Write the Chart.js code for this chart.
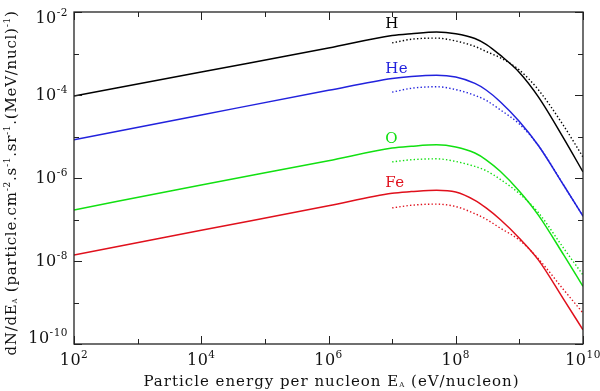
<!DOCTYPE html>
<html>
<head>
  <script src="https://cdn.jsdelivr.net/npm/chart.js@4"></script>
  <style>
    body { margin: 0; background: #fff; }
  </style>
</head>
<body>
  <canvas id="myChart" width="600" height="391"></canvas>
  <script>
    // energies per nucleon (eV/nucleon)
    const energies = [1e2, 1e4, 1e6, 1e7, 2e7, 5e7, 1e8, 2e8, 3e8, 5e8, 1e9, 2e9, 5e9, 1e10]
    const energiesDotted = [1e7, 2e7, 5e7, 1e8, 2e8, 3e8, 5e8, 1e9, 2e9, 5e9, 1e10]

    const hSolid  = [9.5e-5, 3.6e-4, 1.35e-3, 2.7e-3, 3.0e-3, 3.3e-3, 3.0e-3, 2.3e-3, 1.66e-3, 9.1e-4, 3.5e-4, 8.9e-5, 8.9e-6, 1.4e-6]
    const hDotted = [1.8e-3, 2.2e-3, 2.35e-3, 2.0e-3, 1.48e-3, 1.12e-3, 7.9e-4, 4.0e-4, 1.32e-4, 1.78e-5, 3.2e-6]

    const heSolid  = [8.3e-6, 3.3e-5, 1.3e-4, 2.5e-4, 2.8e-4, 3.0e-4, 2.7e-4, 1.9e-4, 1.32e-4, 6.9e-5, 2.3e-5, 6.0e-6, 6.6e-7, 1.2e-7]
    const heDotted = [1.17e-4, 1.45e-4, 1.58e-4, 1.35e-4, 9.8e-5, 7.4e-5, 4.4e-5, 2.0e-5, 6.0e-6, 6.6e-7, 1.2e-7]

    const oSolid  = [1.7e-7, 6.8e-7, 2.6e-6, 5.25e-6, 5.8e-6, 6.3e-6, 5.6e-6, 4.0e-6, 2.75e-6, 1.45e-6, 4.8e-7, 1.26e-7, 1.38e-8, 2.45e-9]
    const oDotted = [2.45e-6, 2.75e-6, 2.9e-6, 2.5e-6, 1.9e-6, 1.5e-6, 9.3e-7, 4.2e-7, 1.45e-7, 2.0e-8, 4.6e-9]

    const feSolid  = [1.4e-8, 5.5e-8, 2.15e-7, 4.3e-7, 4.7e-7, 5.1e-7, 4.6e-7, 2.9e-7, 1.9e-7, 1.0e-7, 3.55e-8, 1.05e-8, 1.17e-9, 2.2e-10]
    const feDotted = [1.9e-7, 2.2e-7, 2.35e-7, 2.05e-7, 1.38e-7, 1.02e-7, 6.2e-8, 3.2e-8, 1.12e-8, 2.0e-9, 5.6e-10]

    const species = ['H', 'He', 'O', 'Fe']
    const colors = ['#000000', '#2222dd', '#11e011', '#e0101c']
    // where the species names sit, in data units
    const nameSpots = [[7.8e6, 4.1e-3], [7.8e6, 3.4e-4], [7.8e6, 6.9e-6], [7.8e6, 6.0e-7]]

    const xExps = [2, 3, 4, 5, 6, 7, 8, 9, 10]
    const yExps = [-2, -3, -4, -5, -6, -7, -8, -9, -10]

    const solids = [hSolid, heSolid, oSolid, feSolid]
    const dotteds = [hDotted, heDotted, oDotted, feDotted]

    const FONT = '"DejaVu Serif", serif'

    function pts(xs, ys) {
      return xs.map((x, i) => ({ x: x, y: ys[i] }))
    }

    let datasets = []
    species.forEach((s, i) => {
      datasets.push({
        label: s,
        data: pts(energies, solids[i]),
        borderColor: colors[i],
        borderWidth: 1.5,
        pointRadius: 0,
        cubicInterpolationMode: 'monotone'
      })
      datasets.push({
        label: s + ' dotted',
        data: pts(energiesDotted, dotteds[i]),
        borderColor: colors[i],
        borderWidth: 1.4,
        borderDash: [1.4, 2.2],
        pointRadius: 0,
        cubicInterpolationMode: 'monotone'
      })
    })

    // text made of runs {t, size, dy}
    function runsWidth(ctx, runs, sp) {
      let w = 0
      ctx.letterSpacing = (sp || 0) + 'px'
      runs.forEach(r => {
        ctx.font = r.size + 'px ' + FONT
        w += ctx.measureText(r.t).width
      })
      return w
    }
    function drawRuns(ctx, runs, x, y, sp) {
      ctx.letterSpacing = (sp || 0) + 'px'
      runs.forEach(r => {
        ctx.font = r.size + 'px ' + FONT
        ctx.fillText(r.t, x, y + (r.dy || 0))
        x += ctx.measureText(r.t).width
      })
      ctx.letterSpacing = '0px'
    }
    function pow10(e) {
      return [{ t: '10', size: 16 }, { t: String(e), size: 10.5, dy: -7 }]
    }

    const frame = {
      id: 'frame',
      afterDraw(chart) {
        const ctx = chart.ctx
        const a = chart.chartArea
        const xs = chart.scales.x
        const ys = chart.scales.y
        ctx.save()
        ctx.strokeStyle = '#222'
        ctx.lineWidth = 1.3
        ctx.strokeRect(a.left, a.top, a.right - a.left, a.bottom - a.top)

        ctx.lineWidth = 1
        ctx.beginPath()
        xExps.forEach(k => {
          const px = Math.round(xs.getPixelForValue(Math.pow(10, k))) + 0.5
          const len = k % 2 === 0 ? 8 : 5
          ctx.moveTo(px, a.bottom); ctx.lineTo(px, a.bottom - len)
          ctx.moveTo(px, a.top); ctx.lineTo(px, a.top + len)
        })
        yExps.forEach(k => {
          const py = Math.round(ys.getPixelForValue(Math.pow(10, k))) + 0.5
          const len = k % 2 === 0 ? 8 : 5
          ctx.moveTo(a.left, py); ctx.lineTo(a.left + len, py)
          ctx.moveTo(a.right, py); ctx.lineTo(a.right - len, py)
        })
        ctx.stroke()

        ctx.fillStyle = '#111'
        ctx.textBaseline = 'alphabetic'
        ctx.textAlign = 'left'
        // x tick labels
        xExps.filter(k => k % 2 === 0).forEach(k => {
          const px = xs.getPixelForValue(Math.pow(10, k))
          const runs = pow10(k)
          const w = runsWidth(ctx, runs, 0.5)
          drawRuns(ctx, runs, px - w / 2, a.bottom + 21, 0.5)
        })
        // y tick labels
        yExps.filter(k => k % 2 === 0).forEach(k => {
          let py = ys.getPixelForValue(Math.pow(10, k))
          py = Math.min(Math.max(py, a.top + 6), a.bottom - 6)
          const runs = pow10(k)
          const w = runsWidth(ctx, runs, 0.5)
          drawRuns(ctx, runs, a.left - 6 - w, py + 5, 0.5)
        })

        // x title
        const xt = [
          { t: 'Particle energy per nucleon E', size: 15 },
          { t: 'A', size: 7, dy: 1 },
          { t: ' (eV/nucleon)', size: 15 }
        ]
        const xw = runsWidth(ctx, xt, 1)
        drawRuns(ctx, xt, (a.left + a.right) / 2 - xw / 2 + 3, 386, 1)

        // y title
        const yt = [
          { t: 'dN/dE', size: 15 },
          { t: 'A', size: 7, dy: 1 },
          { t: ' (particle.cm', size: 15 },
          { t: '-2', size: 9, dy: -6 },
          { t: '.s', size: 15 },
          { t: '-1', size: 9, dy: -6 },
          { t: '.sr', size: 15 },
          { t: '-1', size: 9, dy: -6 },
          { t: '.(MeV/nucl)', size: 15 },
          { t: '-1', size: 9, dy: -6 },
          { t: ')', size: 15 }
        ]
        const yw = runsWidth(ctx, yt, 0.75)
        ctx.save()
        ctx.translate(16, 183)
        ctx.rotate(-Math.PI / 2)
        drawRuns(ctx, yt, -yw / 2, 0, 0.75)
        ctx.restore()

        // species names
        ctx.font = '15px ' + FONT
        ctx.letterSpacing = '0.5px'
        species.forEach((s, i) => {
          ctx.fillStyle = colors[i]
          const px = xs.getPixelForValue(nameSpots[i][0])
          const py = ys.getPixelForValue(nameSpots[i][1])
          ctx.fillText(s, px, py)
        })
        ctx.restore()
      }
    }

    let ctx = document.getElementById('myChart').getContext('2d')
    let chart = new Chart(ctx, {
      type: 'line',
      data: { datasets: datasets },
      options: {
        responsive: false,
        animation: false,
        layout: { padding: { left: 74, right: 17, top: 12, bottom: 47 } },
        scales: {
          x: { type: 'logarithmic', min: 1e2, max: 1e10, display: false },
          y: { type: 'logarithmic', min: 1e-10, max: 1e-2, display: false }
        },
        plugins: {
          legend: { display: false },
          tooltip: { enabled: false }
        }
      },
      plugins: [frame]
    })
  </script>
</body>
</html>
